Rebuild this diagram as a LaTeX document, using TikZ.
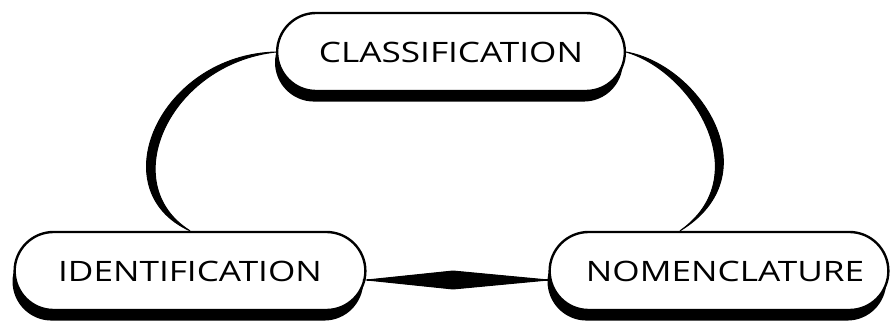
\documentclass[tikz,border=0pt]{standalone}
\usepackage{fontspec}
\setmainfont[FakeStretch=1.25]{Open Sans}
\usetikzlibrary{shapes.misc, shadows, calc}

\tikzstyle{capsule} = [rounded rectangle, draw = black, line width = 1.7pt, 
	fill = white, minimum height = 1.95cm, font = \fontsize{20}{24}\selectfont, 
	drop shadow = {shadow xshift = -1.5pt, shadow yshift = -7.5pt, fill = black, opacity = 1}]
\tikzstyle{link} = [fill = black, draw = black, line width = 0.7pt]

\begin{document}
\begin{tikzpicture}[x = 0.025cm, y = -0.025cm]
\useasboundingbox (0,0) rectangle (894,322);

\node (cls) [capsule, minimum width = 8.925cm] at (451,52) {\raisebox{-3pt}{CLASSIFICATION}};

\node (ide) [capsule, minimum width = 9cm] at (190,271) {\raisebox{-3pt}{IDENTIFICATION}\hspace{1.1cm}};

\node (nom) [capsule, minimum width = 8.7cm] at (719,271) {\hspace{0.3cm}NOMENCLATURE};

% arcs
\coordinate (nomtop) at ($(nom.north) + (-39,0)$);
\fill [link] (cls.west) .. controls (160,55) and (100,190) .. (ide.north)
	.. controls (115,184) and (169,64) .. (cls.west) -- cycle;
\fill [link] (cls.east) .. controls (700,65) and (772,175) .. (nomtop)
	.. controls (758,176) and (692,71) .. (cls.east) -- cycle;

% bottom link
\coordinate (idepin) at ($(ide.east) + (0,9)$);
\coordinate (nompin) at ($(nom.west) + (0,9)$);
\draw [line width = 1.5pt] (idepin) -- (nompin);
\fill [link] (idepin) -- (453,271) -- (nompin) -- (453,289) -- cycle;
\end{tikzpicture}
\end{document}
